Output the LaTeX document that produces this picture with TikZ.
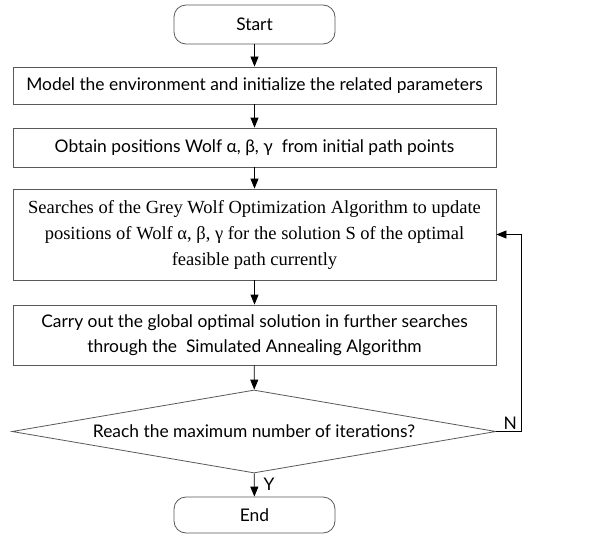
\documentclass[tikz,border=0pt]{standalone}
\usepackage{fontspec}
\setmainfont{Liberation Serif}
\setsansfont{Lato}
\usetikzlibrary{arrows.meta,shapes.geometric,positioning}

\begin{document}
\begin{tikzpicture}[x=1pt,y=-1pt,line width=0.8pt,
  txt/.style={font=\sffamily\fontsize{17.4}{25}\selectfont},
  box/.style={txt,draw=black!65,minimum width=483pt,inner sep=0pt,align=center},
  term/.style={txt,draw=black!65,rounded corners=12pt,minimum width=161pt,inner sep=0pt},
  dec/.style={txt,draw=black!65,diamond,aspect=5.83,minimum width=484pt,minimum height=83pt,inner sep=0pt},
  arr/.style={-{Triangle[length=10pt,width=8pt]},black}
]
\useasboundingbox (0,0) rectangle (615,535);

\node[term,minimum height=39pt] (start) at (254.5,24.5) {Start};
\node[box,minimum height=37pt] (model) at (254.5,85.5) {Model the environment and initialize the related parameters};
\node[box,minimum height=39pt] (obtain) at (254.5,147.5) {Obtain positions Wolf α, β, γ~ from initial path points};
\node[box,minimum height=91pt,font=\rmfamily\fontsize{18.5}{26}\selectfont] (search) at (254.5,234.5)
  {Searches of the Grey Wolf Optimization Algorithm to update\\
   positions of Wolf α, β, γ for the solution S of the optimal\\
   feasible path currently};
\node[box,minimum height=60pt] (carry) at (254.5,335) {Carry out the global optimal solution in further searches\\
  through the~ Simulated Annealing Algorithm};
\node[dec] (reach) at (254,431.5) {Reach the maximum number of iterations?};
\node[term,minimum height=36pt] (end) at (254.5,515) {End};

\draw[arr] (start) -- (model);
\draw[arr] (model) -- (obtain);
\draw[arr] (obtain) -- (search);
\draw[arr] (search) -- (carry);
\draw[arr] (carry) -- (reach);
\draw[arr] (reach) -- node[txt,right,inner sep=9pt,pos=0.45]{Y} (end);
\draw[arr] (reach.east) -- node[txt,above,pos=0.55,inner sep=2pt]{N} ++(25,0) |- (search.east);
\end{tikzpicture}
\end{document}
